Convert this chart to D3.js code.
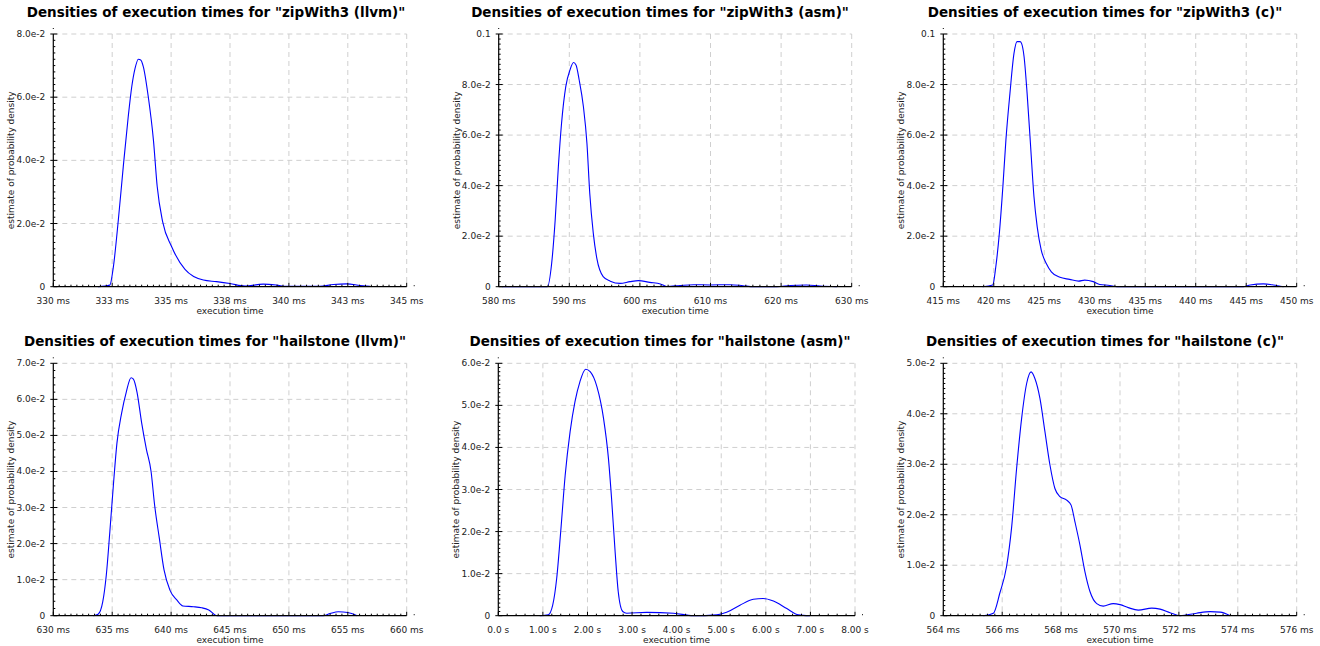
<!DOCTYPE html>
<html>
<head>
<meta charset="utf-8">
<script src="https://cdn.jsdelivr.net/npm/d3@7"></script>
<style>
  body { margin: 0; background: #fff; }
  svg { display: block; font-family: "DejaVu Sans", sans-serif; }
</style>
</head>
<body>
<svg id="chart" width="1320" height="646"></svg>
<script>
// ---------- DATA ----------
const titles = [
  'Densities of execution times for "zipWith3 (llvm)"',
  'Densities of execution times for "zipWith3 (asm)"',
  'Densities of execution times for "zipWith3 (c)"',
  'Densities of execution times for "hailstone (llvm)"',
  'Densities of execution times for "hailstone (asm)"',
  'Densities of execution times for "hailstone (c)"'
];

// x tick values and labels
const xTicks1 = [330, 332.5, 335, 337.5, 340, 342.5, 345];
const xLabels1 = ["330 ms","333 ms","335 ms","338 ms","340 ms","343 ms","345 ms"];
const xTicks2 = [580, 590, 600, 610, 620, 630];
const xLabels2 = ["580 ms","590 ms","600 ms","610 ms","620 ms","630 ms"];
const xTicks3 = [415, 420, 425, 430, 435, 440, 445, 450];
const xLabels3 = ["415 ms","420 ms","425 ms","430 ms","435 ms","440 ms","445 ms","450 ms"];
const xTicks4 = [630, 635, 640, 645, 650, 655, 660];
const xLabels4 = ["630 ms","635 ms","640 ms","645 ms","650 ms","655 ms","660 ms"];
const xTicks5 = [0, 1, 2, 3, 4, 5, 6, 7, 8];
const xLabels5 = ["0.0 s","1.00 s","2.00 s","3.00 s","4.00 s","5.00 s","6.00 s","7.00 s","8.00 s"];
const xTicks6 = [564, 566, 568, 570, 572, 574, 576];
const xLabels6 = ["564 ms","566 ms","568 ms","570 ms","572 ms","574 ms","576 ms"];

// y tick values and labels
const yTicks1 = [0, 0.02, 0.04, 0.06, 0.08];
const yLabels1 = ["0","2.0e-2","4.0e-2","6.0e-2","8.0e-2"];
const yTicks2 = [0, 0.02, 0.04, 0.06, 0.08, 0.1];
const yLabels2 = ["0","2.0e-2","4.0e-2","6.0e-2","8.0e-2","0.1"];
const yTicks3 = [0, 0.02, 0.04, 0.06, 0.08, 0.1];
const yLabels3 = ["0","2.0e-2","4.0e-2","6.0e-2","8.0e-2","0.1"];
const yTicks4 = [0, 0.01, 0.02, 0.03, 0.04, 0.05, 0.06, 0.07];
const yLabels4 = ["0","1.0e-2","2.0e-2","3.0e-2","4.0e-2","5.0e-2","6.0e-2","7.0e-2"];
const yTicks5 = [0, 0.01, 0.02, 0.03, 0.04, 0.05, 0.06];
const yLabels5 = ["0","1.0e-2","2.0e-2","3.0e-2","4.0e-2","5.0e-2","6.0e-2"];
const yTicks6 = [0, 0.01, 0.02, 0.03, 0.04, 0.05];
const yLabels6 = ["0","1.0e-2","2.0e-2","3.0e-2","4.0e-2","5.0e-2"];

// density curves (execution time, density estimate)
const times1 = [331.9,332.4,332.55,332.76,332.97,333.18,333.33,333.47,333.61,333.71,333.82,334.03,334.25,334.41,334.64,335.02,335.59,336.37,336.93,337.5,338.14,338.91,339.48,339.9,341.3,341.89,342.45,343.02,343.44];
const dens1  = [0,0.0005,0.0063,0.0211,0.038,0.0538,0.0633,0.0691,0.072,0.0718,0.0697,0.0602,0.0464,0.0317,0.0206,0.0127,0.0055,0.0021,0.0016,0.001,0.0002,0.0008,0.0005,0.0001,0.0001,0.0007,0.0009,0.0004,0.0001];

const times2 = [580.5,586.9,587.5,588.0,588.45,588.9,589.5,590.1,590.6,590.95,591.4,592.0,592.5,592.9,593.4,593.9,594.8,595.8,597.2,598.6,599.8,601.4,602.9,603.8,605.7,607.6,609.9,612.8,614.6,616.1,619.4,621.3,623.6,625.5,627.9];
const dens2  = [0,0,0.0092,0.0264,0.0475,0.0646,0.0792,0.0858,0.0887,0.0877,0.0818,0.0712,0.0567,0.0369,0.0211,0.0112,0.004,0.0022,0.0013,0.002,0.0024,0.0017,0.0011,0.0001,0.0005,0.0008,0.0007,0.0008,0.0004,0,0,0.0005,0.0007,0.0003,0];

const times3 = [418.9,419.9,420.2,420.55,420.9,421.2,421.6,422.0,422.3,422.6,422.75,423.0,423.3,423.65,423.98,424.3,424.7,425.2,425.7,426.55,427.5,428.4,429.0,429.85,430.5,431.5,432.2,444.7,445.4,446.7,447.7,448.7];
const dens3  = [0,0.0007,0.0079,0.0211,0.0396,0.058,0.0765,0.0923,0.097,0.097,0.0963,0.091,0.0765,0.0554,0.0356,0.0237,0.0145,0.0092,0.0059,0.0037,0.0029,0.0022,0.0026,0.002,0.0009,0.0005,0,0,0.0007,0.0011,0.0007,0];

const times4 = [633.4,633.8,634.2,634.5,634.8,635.1,635.4,635.8,636.2,636.6,636.8,637.1,637.5,637.9,638.3,638.6,639.0,639.4,639.9,640.5,641.0,641.9,642.6,643.2,643.9,652.9,653.5,654.2,655.0,655.8];
const dens4  = [0,0.0004,0.0039,0.0113,0.0233,0.0362,0.0478,0.0562,0.0621,0.066,0.0656,0.0621,0.0535,0.0462,0.04,0.0307,0.0215,0.0127,0.0071,0.0043,0.0027,0.0025,0.0022,0.0016,0,0,0.0006,0.0011,0.0009,0];

const times5 = [0.93,1.12,1.22,1.31,1.40,1.50,1.61,1.72,1.83,1.96,2.06,2.21,2.36,2.47,2.54,2.62,2.69,2.79,2.88,3.33,3.93,4.37,4.9,5.12,5.42,5.72,5.94,6.17,6.47,6.73,6.99];
const dens5  = [0,0.0002,0.0025,0.0089,0.02,0.0334,0.0437,0.0509,0.0556,0.0586,0.058,0.0545,0.0469,0.0374,0.0279,0.0152,0.0057,0.001,0.0006,0.0008,0.0006,0,0.0002,0.0008,0.0025,0.0039,0.0041,0.0035,0.0017,0.0002,0];

const times6 = [565.36,565.7,565.92,566.15,566.32,566.49,566.66,566.83,566.98,567.11,567.28,567.45,567.62,567.79,567.96,568.19,568.34,568.47,568.64,568.81,568.98,569.21,569.43,569.77,570.0,570.28,570.62,571.08,571.36,571.7,572.04,572.6,573.06,573.4,573.74];
const dens6  = [0,0.0005,0.0045,0.0098,0.0175,0.0292,0.0391,0.046,0.0483,0.047,0.0431,0.0365,0.0299,0.0252,0.0236,0.0229,0.0219,0.0186,0.014,0.0087,0.0048,0.0024,0.0019,0.0024,0.0022,0.0016,0.0011,0.0015,0.0013,0.0006,0,0.0005,0.0008,0.0007,0];

// ---------- LAYOUT ----------
const panels = [
  {title: titles[0], xt: xTicks1, xl: xLabels1, yt: yTicks1, yl: yLabels1, t: times1, d: dens1,
   box: [53.3, 406.7, 34, 286.7], cx: 216, ty: 17, xMinor: 10, yMinor: 10},
  {title: titles[1], xt: xTicks2, xl: xLabels2, yt: yTicks2, yl: yLabels2, t: times2, d: dens2,
   box: [498.7, 851.7, 34, 286.7], cx: 660, ty: 17, xMinor: 10, yMinor: 10},
  {title: titles[2], xt: xTicks3, xl: xLabels3, yt: yTicks3, yl: yLabels3, t: times3, d: dens3,
   box: [943.3, 1296.7, 34, 286.7], cx: 1105, ty: 17, xMinor: 5, yMinor: 10},
  {title: titles[3], xt: xTicks4, xl: xLabels4, yt: yTicks4, yl: yLabels4, t: times4, d: dens4,
   box: [53.3, 406.7, 363.3, 615.7], cx: 215, ty: 346, xMinor: 10, yMinor: 5},
  {title: titles[4], xt: xTicks5, xl: xLabels5, yt: yTicks5, yl: yLabels5, t: times5, d: dens5,
   box: [498.3, 855, 363.3, 615.7], cx: 660, ty: 346, xMinor: 5, yMinor: 10},
  {title: titles[5], xt: xTicks6, xl: xLabels6, yt: yTicks6, yl: yLabels6, t: times6, d: dens6,
   box: [943.3, 1296.7, 363.3, 615.7], cx: 1105, ty: 346, xMinor: 8, yMinor: 10}
];

const svg = d3.select("#chart");

panels.forEach(p => {
  const [L, R, T, B] = p.box;
  const x = d3.scaleLinear().domain([p.xt[0], p.xt[p.xt.length - 1]]).range([L, R]);
  const y = d3.scaleLinear().domain([0, p.yt[p.yt.length - 1]]).range([B, T]);
  const g = svg.append("g");

  // grid
  g.selectAll(".gx").data(p.xt.slice(1)).join("line")
    .attr("x1", d => x(d)).attr("x2", d => x(d)).attr("y1", T).attr("y2", B)
    .attr("stroke", "#cfcfcf").attr("stroke-width", 1).attr("stroke-dasharray", "5,4");
  g.selectAll(".gy").data(p.yt.slice(1)).join("line")
    .attr("x1", L).attr("x2", R).attr("y1", d => y(d)).attr("y2", d => y(d))
    .attr("stroke", "#cfcfcf").attr("stroke-width", 1).attr("stroke-dasharray", "5,4");

  // curve
  const line = d3.line().x((d, i) => x(p.t[i])).y((d, i) => y(p.d[i])).curve(d3.curveMonotoneX);
  g.append("path").datum(p.d).attr("d", line)
    .attr("fill", "none").attr("stroke", "#0000ff").attr("stroke-width", 1.1);

  // minor ticks
  const xMin = [];
  for (let i = 0; i < p.xt.length - 1; i++) {
    const a = p.xt[i], b = p.xt[i + 1];
    for (let k = 1; k < p.xMinor; k++) xMin.push(a + (b - a) * k / p.xMinor);
  }
  g.selectAll(".mx").data(xMin).join("line")
    .attr("x1", d => x(d)).attr("x2", d => x(d)).attr("y1", B).attr("y2", B - 2)
    .attr("stroke", "#000").attr("stroke-width", 1);
  const yMin = [];
  for (let i = 0; i < p.yt.length - 1; i++) {
    const a = p.yt[i], b = p.yt[i + 1];
    for (let k = 1; k < p.yMinor; k++) yMin.push(a + (b - a) * k / p.yMinor);
  }
  g.selectAll(".my").data(yMin).join("line")
    .attr("x1", L).attr("x2", L + 2).attr("y1", d => y(d)).attr("y2", d => y(d))
    .attr("stroke", "#000").attr("stroke-width", 1);

  // major ticks
  g.selectAll(".Mx").data(p.xt).join("line")
    .attr("x1", d => x(d)).attr("x2", d => x(d)).attr("y1", B).attr("y2", B - 4)
    .attr("stroke", "#000").attr("stroke-width", 1);
  g.selectAll(".My").data(p.yt).join("line")
    .attr("x1", L - 3).attr("x2", L + 4).attr("y1", d => y(d)).attr("y2", d => y(d))
    .attr("stroke", "#000").attr("stroke-width", 1);

  // axis lines
  g.append("line").attr("x1", L).attr("x2", R).attr("y1", B).attr("y2", B)
    .attr("stroke", "#000").attr("stroke-width", 1.2);
  g.append("line").attr("x1", L).attr("x2", L).attr("y1", T).attr("y2", B)
    .attr("stroke", "#000").attr("stroke-width", 1.2);
  // small end marks
  g.append("rect").attr("x", L - 0.5).attr("y", T - 6).attr("width", 1).attr("height", 1).attr("fill", "#000");
  g.append("rect").attr("x", R + 7).attr("y", B - 1.5).attr("width", 1).attr("height", 1).attr("fill", "#000");

  // tick labels
  g.selectAll(".lx").data(p.xt).join("text")
    .attr("x", d => x(d)).attr("y", B + 17)
    .attr("text-anchor", "middle").attr("font-size", 9).attr("fill", "#222")
    .text((d, i) => p.xl[i]);
  g.selectAll(".ly").data(p.yt).join("text")
    .attr("x", L - 8).attr("y", d => y(d) + 3)
    .attr("text-anchor", "end").attr("font-size", 9).attr("fill", "#222")
    .text((d, i) => p.yl[i]);

  // axis titles
  g.append("text").attr("x", (L + R) / 2).attr("y", B + 27)
    .attr("text-anchor", "middle").attr("font-size", 9).attr("fill", "#222")
    .text("execution time");
  g.append("text")
    .attr("transform", `translate(${L - 39},${(T + B) / 2}) rotate(-90)`)
    .attr("text-anchor", "middle").attr("font-size", 9).attr("fill", "#222")
    .text("estimate of probability density");

  // title
  g.append("text").attr("x", p.cx).attr("y", p.ty)
    .attr("text-anchor", "middle").attr("font-size", 13.5).attr("font-weight", "bold")
    .attr("fill", "#000").text(p.title);
});
</script>
</body>
</html>
